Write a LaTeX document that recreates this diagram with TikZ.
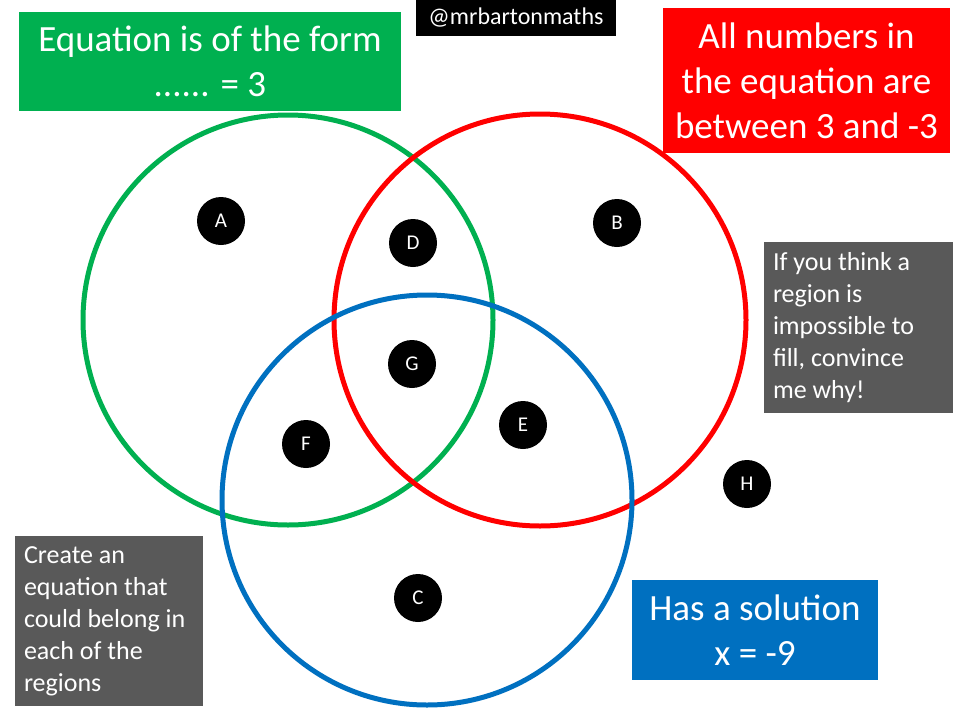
\documentclass[tikz,border=0pt]{standalone}
\usepackage{fontspec}
\setmainfont{Carlito}
\definecolor{cgreen}{HTML}{00B050}
\definecolor{cred}{HTML}{FF0000}
\definecolor{cblue}{HTML}{0070C0}
\definecolor{cgray}{HTML}{595959}
\begin{document}
\begin{tikzpicture}[x=1pt,y=-1pt,
  ring/.style={line width=5pt},
  dot/.style={circle,fill=black,minimum size=48pt,inner sep=0pt,text=white,font=\fontsize{21}{24}\selectfont},
  bigbox/.style={rectangle,inner sep=0pt,text=white,align=center,font=\fontsize{37}{45}\selectfont},
  notebox/.style={rectangle,fill=cgray,inner xsep=9pt,inner ysep=0pt,text=white,align=flush left,font=\fontsize{26}{32}\selectfont}
]
\useasboundingbox[fill=white] (0,0) rectangle (960,720);
% circles
\draw[ring,cgreen] (288,320) circle[radius=205];
\draw[ring,cred] (540,320) circle[radius=206];
\draw[ring,cblue] (427,500) circle[radius=205];
% boxes
\node[bigbox,fill=cgreen,minimum width=382pt,minimum height=99pt] (gbox) at (210,61.5) {Equation is of the form\\...... = 3};
\node[bigbox,fill=cred,minimum width=287pt,minimum height=145pt] (rbox) at (806.5,80.5) {All numbers in\\the equation are\\between 3 and -3};
\node[bigbox,fill=cblue,minimum width=246pt,minimum height=100pt] (bbox) at (755,630) {Has a solution\\x = -9};
\node[rectangle,fill=black,text=white,minimum width=200pt,minimum height=36pt,inner sep=0pt,font=\fontsize{24}{26}\selectfont] (tag) at (516,18) {@mrbartonmaths};
\node[notebox,text width=171pt,minimum height=171pt] (note1) at (858.5,327.5) {If you think a\\region is\\impossible to\\fill, convince\\me why!};
\node[notebox,text width=170pt,minimum height=170pt] (note2) at (109,621) {Create an\\equation that\\could belong in\\each of the\\regions};
% dots
\node[dot] (A) at (221,221) {A};
\node[dot] (D) at (413,243) {D};
\node[dot] (B) at (617,223) {B};
\node[dot] (G) at (412,364) {G};
\node[dot] (E) at (523,425) {E};
\node[dot] (F) at (306,444) {F};
\node[dot] (H) at (747,484) {H};
\node[dot] (C) at (418,598) {C};
\end{tikzpicture}
\end{document}
